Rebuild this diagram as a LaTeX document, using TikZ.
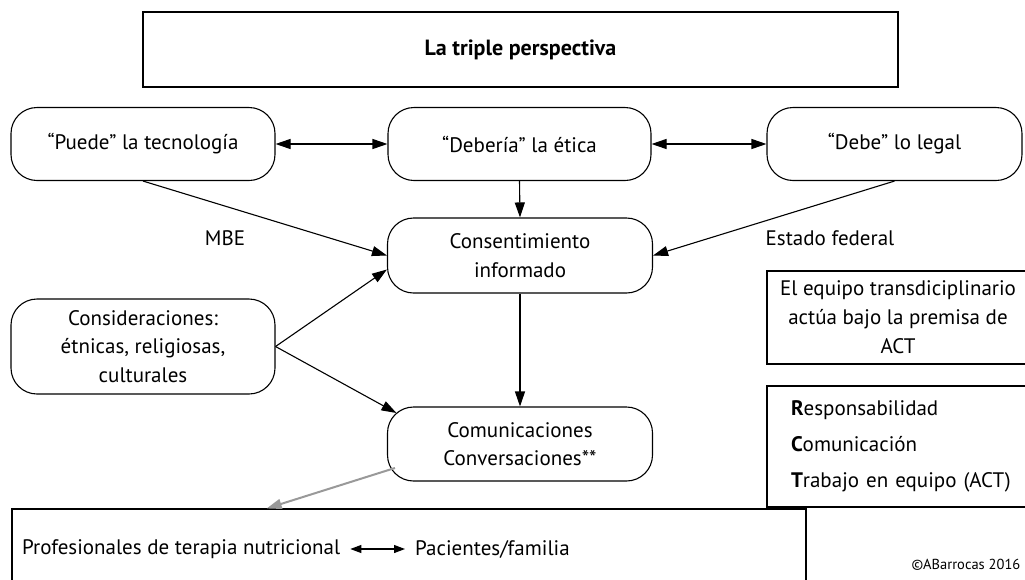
\documentclass[tikz,border=0pt]{standalone}
\usepackage{fontspec}
\setmainfont{PT Sans}
\usetikzlibrary{arrows.meta,calc}

\tikzset{
  rbox/.style={rectangle, draw, rounded corners=26pt, line width=1.1pt, align=center,
    minimum height=74pt, font=\fontsize{21}{28.5}\selectfont},
  sbox/.style={rectangle, draw, line width=1.1pt},
  arr/.style={-{Triangle[length=15pt,width=10pt]}, line width=1.1pt},
  darr/.style={{Triangle[length=15pt,width=10pt]}-{Triangle[length=15pt,width=10pt]}, line width=1.1pt},
  txt/.style={font=\fontsize{21}{28.5}\selectfont}
}

\begin{document}
\begin{tikzpicture}[x=1pt, y=-1pt]
  \useasboundingbox (0,0) rectangle (1025,579);
  \clip (0,0) rectangle (1025,579);
  % Nodes
  \node (titulo) [sbox, minimum width=755pt, minimum height=75pt, font=\fontsize{22}{28}\selectfont] at (520.5, 49.5) {\bfseries La triple perspectiva};
  \node (puede) [rbox, minimum width=264pt, minimum height=73pt] at (143, 144) {“Puede” la tecnología};
  \node (deberia) [rbox, minimum width=263pt, minimum height=73pt] at (519.5, 144) {“Debería” la ética};
  \node (debe) [rbox, minimum width=255pt, minimum height=73pt] at (894.5, 144) {“Debe” lo legal};
  \node (consent) [rbox, minimum width=265pt, minimum height=75pt] at (520, 255.5) {Consentimiento\\informado};
  \node (consid) [rbox, minimum width=264pt, minimum height=95pt] at (143, 346.5) {Consideraciones:\\étnicas, religiosas,\\culturales};
  \node (comun) [rbox, minimum width=265pt, minimum height=74pt] at (520, 444) {Comunicaciones\\Conversaciones**};
  \node (equipo) [sbox, minimum width=262pt, minimum height=93pt, align=center,
    font=\fontsize{21}{29}\selectfont] at (898, 317.5) {El equipo transdiciplinario\\actúa bajo la premisa de\\ACT};
  \node (act) [sbox, minimum height=121pt, inner xsep=24pt, text width=250pt, align=left,
    font=\fontsize{21}{36}\selectfont] at (916, 446.5) {\textbf{R}esponsabilidad\\\textbf{C}omunicación\\\textbf{T}rabajo en equipo (ACT)};
  \node (grupo) [sbox, minimum width=794pt, minimum height=100pt] at (409, 559) {};
  \node (prof) [txt, anchor=west, inner sep=2pt] at (20, 549) {Profesionales de terapia nutricional};
  \node (pac) [txt, anchor=west, inner sep=2pt] at (413, 549) {Pacientes/familia};
  % Labels
  \node (mbe) [txt] at (225, 238) {MBE};
  \node (estado) [txt] at (830, 238) {Estado federal};
  \node (copy) [anchor=west, font=\fontsize{14.5}{16}\selectfont] at (908, 565) {©ABarrocas 2016};
  % Arrows
  \draw[darr] (puede.east) -- (deberia.west);
  \draw[darr] (deberia.east) -- (debe.west);
  \draw[arr] (deberia.south) -- (consent.north);
  \draw[arr] (puede.south) -- (consent.west);
  \draw[arr] (debe.south) -- (consent.east);
  \draw[arr] (consid.east) -- (consent.186);
  \draw[arr] (consid.east) -- ($(comun.west)+(9.5,-31)$);
  \draw[arr] (consent.south) -- (comun.north);
  \draw[-{Triangle[length=15pt,width=10pt]}, line width=2pt, gray!80] ($(comun.west)+(8,24)$) -- ($(grupo.north west)!0.321!(grupo.north east)$);
  \draw[{Triangle[length=11pt,width=8pt]}-{Triangle[length=11pt,width=8pt]}, line width=1.1pt] ($(prof.east)+(8,0)$) -- ($(pac.west)+(-8,0)$);
\end{tikzpicture}
\end{document}
